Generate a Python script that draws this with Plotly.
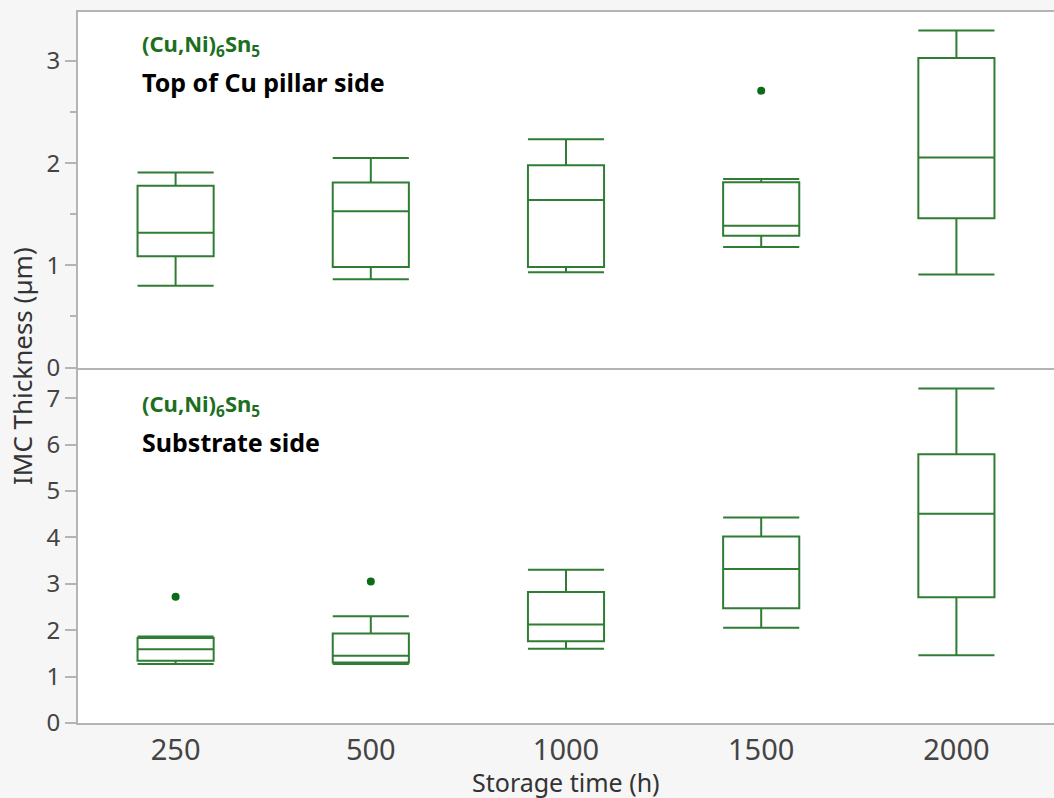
import plotly.graph_objects as go

categories = ["250", "500", "1000", "1500", "2000"]

# Top of Cu pillar side
top_low = [0.80, 0.865, 0.933, 1.18, 0.91]
top_q1 = [1.09, 0.985, 0.985, 1.29, 1.46]
top_med = [1.32, 1.53, 1.64, 1.387, 2.055]
top_q3 = [1.78, 1.81, 1.98, 1.814, 3.03]
top_high = [1.91, 2.05, 2.235, 1.846, 3.30]
top_out_x = ["1500"]
top_out_y = [2.71]

# Substrate side
sub_low = [1.27, 1.27, 1.60, 2.05, 1.46]
sub_q1 = [1.34, 1.305, 1.76, 2.47, 2.71]
sub_med = [1.59, 1.45, 2.12, 3.32, 4.51]
sub_q3 = [1.83, 1.93, 2.82, 4.02, 5.79]
sub_high = [1.865, 2.30, 3.30, 4.43, 7.21]
sub_out_x = ["250", "500"]
sub_out_y = [2.72, 3.05]

GREEN = "#2e7d32"
DOT = "#0b6b16"
AXC = "#b4b4b4"
FONT = "Noto Sans"

fig = go.Figure()

def add_box(q1, med, q3, lo, hi, xa, ya):
    fig.add_trace(go.Box(
        x=categories, q1=q1, median=med, q3=q3, lowerfence=lo, upperfence=hi,
        xaxis=xa, yaxis=ya, width=0.39, whiskerwidth=1,
        line=dict(color=GREEN, width=2), fillcolor="rgba(0,0,0,0)",
        boxpoints=False, showlegend=False, hoverinfo="y"))

add_box(top_q1, top_med, top_q3, top_low, top_high, "x2", "y2")
add_box(sub_q1, sub_med, sub_q3, sub_low, sub_high, "x", "y")

fig.add_trace(go.Scatter(x=top_out_x, y=top_out_y, mode="markers", xaxis="x2", yaxis="y2",
                         marker=dict(color=DOT, size=8), showlegend=False))
fig.add_trace(go.Scatter(x=sub_out_x, y=sub_out_y, mode="markers", xaxis="x", yaxis="y",
                         marker=dict(color=DOT, size=8), showlegend=False))

tickfont_y = dict(family=FONT, size=24, color="#444444")
tickfont_x = dict(family=FONT, size=29, color="#444444")

fig.update_layout(
    width=1054, height=798,
    margin=dict(l=78, r=0, t=12, b=75),
    paper_bgcolor="#f6f6f6", plot_bgcolor="white",
    font=dict(family=FONT),
    xaxis=dict(domain=[0, 1], anchor="y", type="category", categoryorder="array",
               categoryarray=categories, range=[-0.5, 4.5], showline=True, linecolor=AXC,
               linewidth=2, ticks="", tickfont=tickfont_x, showgrid=False, zeroline=False),
    yaxis=dict(domain=[0, 0.5], anchor="x", range=[0, 7.66], tickvals=[0, 1, 2, 3, 4, 5, 6, 7],
               showline=True, linecolor=AXC, linewidth=2, ticks="outside", ticklen=11,
               tickcolor=AXC, tickwidth=1.5, tickfont=tickfont_y, showgrid=False, zeroline=False),
    xaxis2=dict(domain=[0, 1], anchor="y2", type="category", categoryorder="array",
                categoryarray=categories, range=[-0.5, 4.5], showline=True, mirror=True,
                linecolor=AXC, linewidth=2, ticks="", showticklabels=False,
                showgrid=False, zeroline=False, matches="x"),
    yaxis2=dict(domain=[0.5, 1], anchor="x2", range=[0, 3.48], tickvals=[0, 1, 2, 3],
                showline=True, linecolor=AXC, linewidth=2, ticks="outside", ticklen=11,
                tickcolor=AXC, tickwidth=1.5, tickfont=tickfont_y, showgrid=False, zeroline=False,
                minor=dict(dtick=0.5, ticks="outside", ticklen=6, tickcolor=AXC, showgrid=False)),
)

ann = []
ann.append(dict(text="(Cu,Ni)<sub>6</sub>Sn<sub>5</sub>", x=140, y=45, size=22, color="#1d6e1d"))
ann.append(dict(text="Top of Cu pillar side", x=140, y=82, size=25, color="black"))
ann.append(dict(text="(Cu,Ni)<sub>6</sub>Sn<sub>5</sub>", x=140, y=405, size=22, color="#1d6e1d"))
ann.append(dict(text="Substrate side", x=140, y=442, size=25, color="black"))
for a in ann:
    fig.add_annotation(text="<b>" + a["text"] + "</b>", xref="paper", yref="paper",
                       x=(a["x"] - 78) / 976, y=1 - (a["y"] - 12) / 711,
                       xanchor="left", yanchor="middle", showarrow=False,
                       font=dict(family=FONT, size=a["size"], color=a["color"]))

fig.add_annotation(text="IMC Thickness (µm)", xref="paper", yref="paper",
                   x=(22 - 78) / 976, y=1 - (366 - 12) / 711, textangle=-90,
                   xanchor="center", yanchor="middle", showarrow=False,
                   font=dict(family=FONT, size=26, color="#333333"))
fig.add_annotation(text="Storage time (h)", xref="paper", yref="paper",
                   x=0.5, y=1 - (782 - 12) / 711,
                   xanchor="center", yanchor="middle", showarrow=False,
                   font=dict(family=FONT, size=25, color="#333333"))

fig.write_html("out.html", config={"displayModeBar": False},
               post_script="document.body.style.margin='0';")
